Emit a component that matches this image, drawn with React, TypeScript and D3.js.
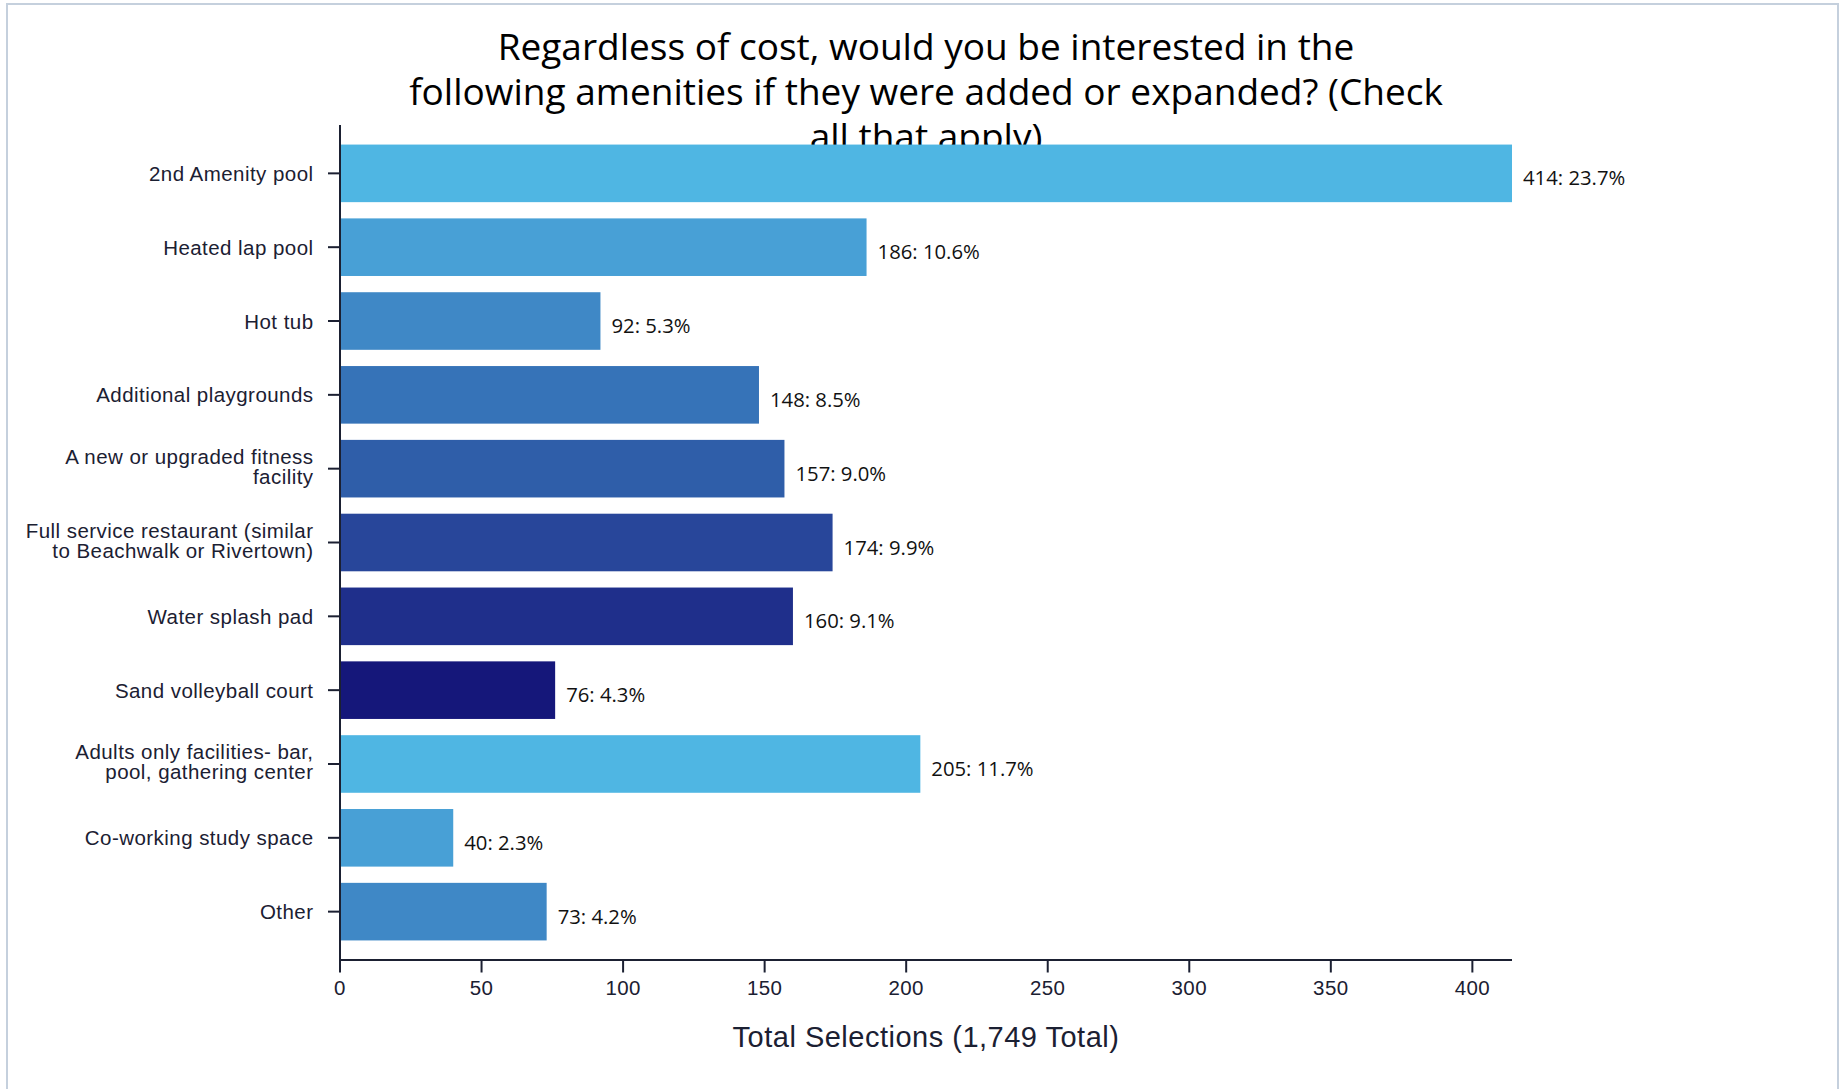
import React from "react";
import * as d3 from "d3";

const categories: string[][] = [
  ["2nd Amenity pool"],
  ["Heated lap pool"],
  ["Hot tub"],
  ["Additional playgrounds"],
  ["A new or upgraded fitness", "facility"],
  ["Full service restaurant (similar", "to Beachwalk or Rivertown)"],
  ["Water splash pad"],
  ["Sand volleyball court"],
  ["Adults only facilities- bar,", "pool, gathering center"],
  ["Co-working study space"],
  ["Other"],
];
const values: number[] = [414, 186, 92, 148, 157, 174, 160, 76, 205, 40, 73];
const totalSelections = 1749;
const barColors: string[] = [
  "#4fb6e3", "#48a0d6", "#3f88c6", "#3673b8", "#2f5ea9", "#28469a",
  "#1f2f8b", "#15177a", "#4fb6e3", "#48a0d6", "#3f88c6",
];
const xTicks: number[] = [0, 50, 100, 150, 200, 250, 300, 350, 400];
const titleLines: string[] = [
  "Regardless of cost, would you be interested in the",
  "following amenities if they were added or expanded? (Check",
  "all that apply)",
];
const xAxisTitle = "Total Selections (1,749 Total)";

export default function App() {
  const W = 1845, H = 1089;
  const left = 340, right = 1512, top = 125, bottom = 960;
  const x = d3.scaleLinear().domain([0, d3.max(values) as number]).range([left, right]);
  const y = d3
    .scaleBand<number>()
    .domain(d3.range(values.length))
    .range([top, bottom])
    .paddingInner(0.22)
    .paddingOuter(0.265);
  const axisColor = "#1b2032";
  const labelFont = "'Liberation Sans', Arial, sans-serif";
  const textFont = "'Open Sans', 'Noto Sans', sans-serif";
  const cx = (left + right) / 2;

  React.useEffect(() => {
    document.body.style.overflow = "hidden";
  }, []);

  return (
    <svg
      width={W}
      height={H}
      style={{ position: "absolute", left: 0, top: 0, background: "#fff" }}
    >
      <rect x={0} y={0} width={W} height={H} fill="#fff" />
      <rect x={7} y={4} width={1831} height={H + 20} fill="none" stroke="#c5d0dd" strokeWidth={2} />
      {/* title (drawn below bars) */}
      <g fontFamily={textFont} fontSize={37} fill="#000" textAnchor="middle">
        {titleLines.map((t, i) => (
          <text key={i} x={cx} y={59.5 + i * 45}>
            {t}
          </text>
        ))}
      </g>
      {/* bars */}
      <g>
        {values.map((v, i) => (
          <rect
            key={i}
            x={x(0)}
            y={y(i)}
            width={x(v) - x(0)}
            height={y.bandwidth()}
            fill={barColors[i]}
          />
        ))}
      </g>
      {/* value labels */}
      <g fontFamily={textFont} fontSize={20.3} fill="#111">
        {values.map((v, i) => (
          <text key={i} x={x(v) + 11} y={(y(i) as number) + y.bandwidth() / 2 + 12}>
            {`${v}: ${((v / totalSelections) * 100).toFixed(1)}%`}
          </text>
        ))}
      </g>
      {/* y axis */}
      <line x1={left} x2={left} y1={top} y2={bottom + 1} stroke={axisColor} strokeWidth={2} />
      <g fontFamily={labelFont} fontSize={20.5} letterSpacing={0.45} fill={axisColor} textAnchor="end">
        {categories.map((lines, i) => {
          const c = (y(i) as number) + y.bandwidth() / 2;
          return (
            <g key={i}>
              <line x1={left - 12} x2={left} y1={c} y2={c} stroke={axisColor} strokeWidth={2} />
              {lines.map((ln, j) => (
                <text
                  key={j}
                  x={313.5}
                  y={lines.length === 1 ? c + 7.5 : c - 4.5 + j * 20}
                >
                  {ln}
                </text>
              ))}
            </g>
          );
        })}
      </g>
      {/* x axis */}
      <line x1={left - 1} x2={right} y1={bottom} y2={bottom} stroke={axisColor} strokeWidth={2} />
      <g fontFamily={labelFont} fontSize={20.5} letterSpacing={0.4} fill={axisColor} textAnchor="middle">
        {xTicks.map((t) => (
          <g key={t}>
            <line x1={x(t)} x2={x(t)} y1={bottom} y2={bottom + 12.5} stroke={axisColor} strokeWidth={2} />
            <text x={x(t)} y={995}>
              {t}
            </text>
          </g>
        ))}
      </g>
      <text
        x={cx}
        y={1047}
        fontFamily={labelFont}
        fontSize={29}
        letterSpacing={0.5}
        fill={axisColor}
        textAnchor="middle"
      >
        {xAxisTitle}
      </text>
    </svg>
  );
}
